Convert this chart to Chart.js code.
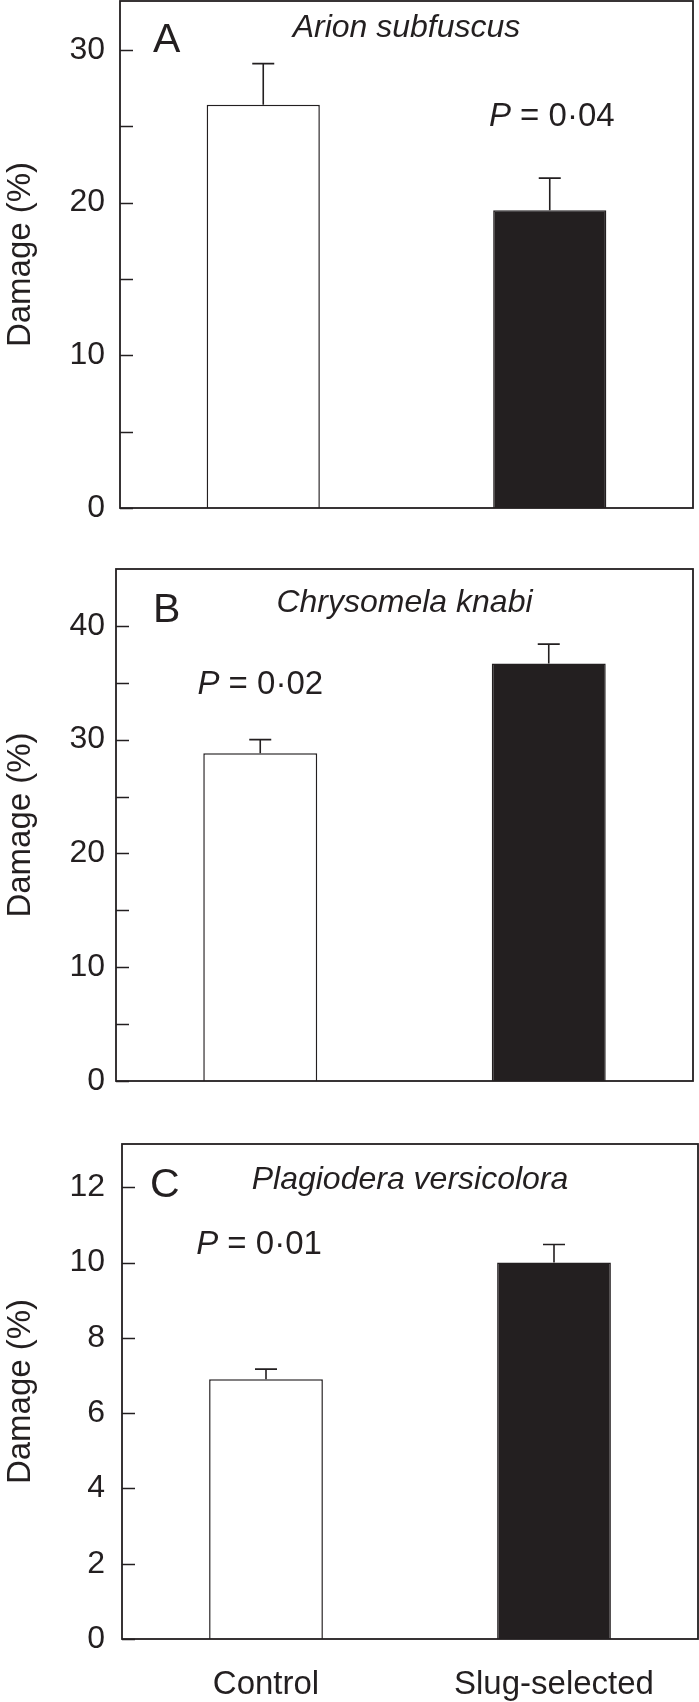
<!DOCTYPE html>
<html>
<head>
<meta charset="utf-8">
<script src="https://cdn.jsdelivr.net/npm/chart.js"></script>
<style>
  html, body { margin: 0; padding: 0; background: #fff; }
  #wrap { position: relative; width: 699px; height: 1702px; }
  canvas { position: absolute; left: 0; }
</style>
</head>
<body>
<div id="wrap">
  <canvas id="panelA" width="699" height="545" style="top:0px"></canvas>
  <canvas id="panelB" width="699" height="565" style="top:545px"></canvas>
  <canvas id="panelC" width="699" height="592" style="top:1110px"></canvas>
</div>
<script>
// data
const categories = ['Control', 'Slug-selected'];

const damageA = [26.4, 19.5];
const errorA = [2.7, 2.1];
const damageB = [28.8, 36.7];
const errorB = [1.2, 1.7];
const damageC = [6.9, 10.0];
const errorC = [0.27, 0.48];

const yMaxA = 33.2;
const yMaxB = 45;
const yMaxC = 13.15;

const ticksA = [0, 5, 10, 15, 20, 25, 30];
const ticksB = [0, 5, 10, 15, 20, 25, 30, 35, 40];
const ticksC = [0, 2, 4, 6, 8, 10, 12];
const labelledA = [0, 10, 20, 30];
const labelledB = [0, 10, 20, 30, 40];
const labelledC = [0, 2, 4, 6, 8, 10, 12];

const panelLetters = ['A', 'B', 'C'];
const speciesNames = ['Arion subfuscus', 'Chrysomela knabi', 'Plagiodera versicolora'];
const pValues = ['0·04', '0·02', '0·01'];
const pOverBar = [1, 0, 0];

const FONT = '"Liberation Sans", Arial, Helvetica, sans-serif';
const INK = '#231f20';

// page layout of each panel (canvas offset + chart area), in px
const panelLayout = [
    { top: 0, height: 545, left: 120, right: 693, areaTop: 1, areaBottom: 508, showX: false,
      letterDx: 33, letterDy: 51, speciesDy: 36, pDy: 125, pDx: 2 },
    { top: 545, height: 565, left: 116, right: 693, areaTop: 569, areaBottom: 1081, showX: false,
      letterDx: 37, letterDy: 53, speciesDy: 43, pDy: 125, pDx: 0 },
    { top: 1110, height: 592, left: 122, right: 698, areaTop: 1144, areaBottom: 1639, showX: true,
      letterDx: 28, letterDy: 53, speciesDy: 45, pDy: 110, pDx: -7 }
];

const decorPlugin = {
    id: 'decor',
    afterDatasetsDraw(chart) {
        const ctx = chart.ctx;
        const area = chart.chartArea;
        const p = chart.options.plugins.decor;
        const yScale = chart.scales.y;
        const meta = chart.getDatasetMeta(0);

        ctx.save();
        ctx.strokeStyle = INK;
        ctx.fillStyle = INK;

        // error bars (upper only)
        ctx.lineWidth = 1.6;
        meta.data.forEach((bar, i) => {
            const topPx = yScale.getPixelForValue(p.values[i] + p.errors[i]);
            ctx.beginPath();
            ctx.moveTo(bar.x, bar.y);
            ctx.lineTo(bar.x, topPx);
            ctx.moveTo(bar.x - 11, topPx);
            ctx.lineTo(bar.x + 11, topPx);
            ctx.stroke();
        });

        // frame
        ctx.lineWidth = 1.8;
        ctx.strokeRect(area.left, area.top, area.right - area.left, area.bottom - area.top);

        // inward tick marks
        ctx.lineWidth = 1.5;
        yScale.ticks.forEach(t => {
            const y = Math.round(yScale.getPixelForValue(t.value)) + 0.5;
            ctx.beginPath();
            ctx.moveTo(area.left, y);
            ctx.lineTo(area.left + 13, y);
            ctx.stroke();
        });

        const lay = p.layout;

        // panel letter
        ctx.textBaseline = 'alphabetic';
        ctx.textAlign = 'left';
        ctx.font = '41px ' + FONT;
        ctx.fillText(p.letter, area.left + lay.letterDx, area.top + lay.letterDy);

        // species name
        ctx.textAlign = 'center';
        ctx.font = 'italic 32px ' + FONT;
        ctx.fillText(p.species, (area.left + area.right) / 2, area.top + lay.speciesDy);

        // P value over one of the bars
        const pItalic = 'P';
        const pRest = ' = ' + p.pValue;
        ctx.font = 'italic 33px ' + FONT;
        const w1 = ctx.measureText(pItalic).width;
        ctx.font = '33px ' + FONT;
        const w2 = ctx.measureText(pRest).width;
        const cx = meta.data[p.pBar].x + lay.pDx;
        const startX = cx - (w1 + w2) / 2;
        ctx.textAlign = 'left';
        ctx.font = 'italic 33px ' + FONT;
        ctx.fillText(pItalic, startX, area.top + lay.pDy);
        ctx.font = '33px ' + FONT;
        ctx.fillText(pRest, startX + w1, area.top + lay.pDy);

        ctx.restore();
    }
};

function makePanel(canvasId, idx, values, errors, yMax, tickValues, labelled) {
    const lay = panelLayout[idx];
    const xHeight = lay.top + lay.height - lay.areaBottom;

    new Chart(document.getElementById(canvasId), {
        type: 'bar',
        data: {
            labels: categories,
            datasets: [{
                data: values,
                backgroundColor: ['#ffffff', INK],
                borderColor: INK,
                borderWidth: 1.5,
                barPercentage: 0.395,
                categoryPercentage: 1
            }]
        },
        options: {
            responsive: false,
            animation: false,
            devicePixelRatio: 1,
            layout: {
                padding: {
                    left: 0,
                    right: 699 - lay.right,
                    top: lay.areaTop - lay.top,
                    bottom: lay.showX ? 0 : xHeight
                }
            },
            plugins: {
                legend: { display: false },
                tooltip: { enabled: false },
                decor: {
                    values: values,
                    errors: errors,
                    letter: panelLetters[idx],
                    species: speciesNames[idx],
                    pValue: pValues[idx],
                    pBar: pOverBar[idx],
                    layout: lay
                }
            },
            scales: {
                x: {
                    display: lay.showX,
                    grid: { display: false, drawTicks: false },
                    border: { display: false },
                    ticks: { color: INK, font: { family: FONT, size: 33 }, padding: 26 },
                    afterFit: s => {
                        if (lay.showX) s.height = xHeight;
                        s.paddingLeft = 0;
                        s.paddingRight = 0;
                    }
                },
                y: {
                    min: 0,
                    max: yMax,
                    grid: { display: false, drawTicks: false },
                    border: { display: false },
                    afterBuildTicks: s => { s.ticks = tickValues.map(v => ({ value: v })); },
                    ticks: {
                        autoSkip: false,
                        padding: lay.left - 105,
                        color: INK,
                        font: { family: FONT, size: 32 },
                        callback: v => labelled.includes(v) ? String(v) : ''
                    },
                    title: {
                        display: true,
                        text: 'Damage (%)',
                        color: INK,
                        font: { family: FONT, size: 33 },
                        padding: { top: 1, bottom: 0 }
                    },
                    afterFit: s => {
                        s.width = lay.left;
                        s.paddingTop = 0;
                        s.paddingBottom = 0;
                    }
                }
            }
        },
        plugins: [decorPlugin]
    });
}

makePanel('panelA', 0, damageA, errorA, yMaxA, ticksA, labelledA);
makePanel('panelB', 1, damageB, errorB, yMaxB, ticksB, labelledB);
makePanel('panelC', 2, damageC, errorC, yMaxC, ticksC, labelledC);
</script>
</body>
</html>
